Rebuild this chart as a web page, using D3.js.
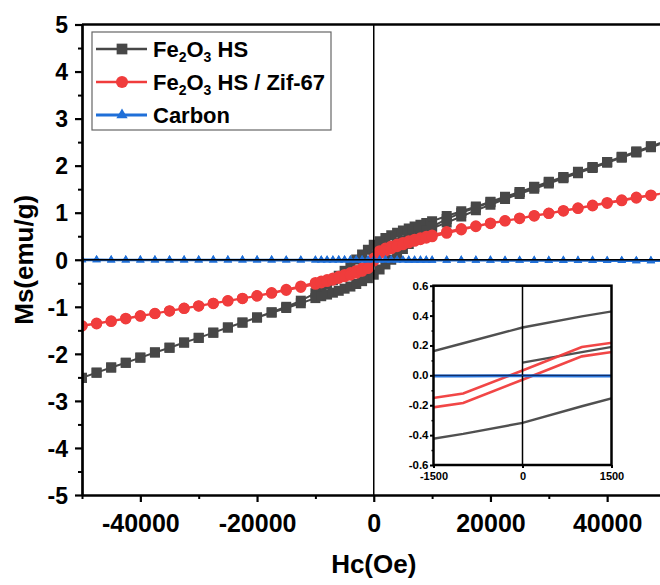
<!DOCTYPE html>
<html><head><meta charset="utf-8">
<script src="https://cdn.jsdelivr.net/npm/d3@7"></script>
<style>
body{margin:0;background:#fff}
svg{display:block}
text{font-family:"Liberation Sans",Arial,sans-serif;font-weight:bold}
</style>
</head><body>
<svg id="c" width="660" height="585"></svg>
<script>
// ---------- data ----------
const fieldVirgin = [0,1000,2000,3000,4000,5000,6000,7000,8000,9000,
  10000,12500,15000,17500,20000,22500,25000,27500,30000,32500,35000,37500,40000,42500,45000,47500,50000];
const fieldDown = [50000,47500,45000,42500,40000,37500,35000,32500,30000,27500,25000,22500,20000,17500,15000,12500,10000,
  9000,8000,7000,6000,5000,4000,3000,2000,1000,0,-1000,-2000,-3000,-4000,-5000,-6000,-7000,-8000,-9000,
  -10000,-12500,-15000,-17500,-20000,-22500,-25000,-27500,-30000,-32500,-35000,-37500,-40000,-42500,-45000,-47500,-50000];
const fieldUp = [-50000,-47500,-45000,-42500,-40000,-37500,-35000,-32500,-30000,-27500,-25000,-22500,-20000,-17500,-15000,-12500,-10000,
  -9000,-8000,-7000,-6000,-5000,-4000,-3000,-2000,-1000,0,1000,2000,3000,4000,5000,6000,7000,8000,9000,
  10000,12500,15000,17500,20000,22500,25000,27500,30000,32500,35000,37500,40000,42500,45000,47500,50000];

const feVirgin = [0.085,0.155,0.225,0.29,0.355,0.415,0.47,0.525,0.575,0.625,
  0.67,0.79,0.92,1.05,1.17,1.29,1.40,1.51,1.62,1.73,1.84,1.95,2.06,2.17,2.28,2.39,2.50];
const feDown = [2.52,2.41,2.30,2.19,2.08,1.97,1.87,1.76,1.66,1.55,1.44,1.34,1.235,1.13,1.03,0.93,0.82,
  0.78,0.745,0.705,0.665,0.62,0.575,0.52,0.46,0.395,0.32,0.215,0.11,0.005,-0.12,-0.235,-0.34,-0.435,-0.53,-0.625,
  -0.71,-0.87,-1.0,-1.115,-1.225,-1.335,-1.44,-1.55,-1.66,-1.76,-1.87,-1.97,-2.08,-2.19,-2.29,-2.40,-2.51];
const feUp = [-2.51,-2.40,-2.29,-2.19,-2.08,-1.97,-1.87,-1.76,-1.66,-1.55,-1.44,-1.335,-1.23,-1.125,-1.025,-0.925,-0.815,
  -0.775,-0.74,-0.70,-0.66,-0.615,-0.57,-0.515,-0.455,-0.392,-0.318,-0.207,-0.10,0.0,0.115,0.23,0.335,0.43,0.525,0.62,
  0.705,0.865,0.995,1.11,1.22,1.33,1.435,1.545,1.655,1.755,1.865,1.965,2.075,2.185,2.295,2.405,2.51];

const zifDown = [1.42,1.375,1.33,1.27,1.215,1.16,1.10,1.045,0.99,0.94,0.885,0.83,0.78,0.72,0.66,0.595,0.525,
  0.495,0.465,0.435,0.40,0.365,0.33,0.29,0.245,0.19,0.033,-0.122,-0.18,-0.23,-0.275,-0.315,-0.355,-0.39,-0.425,-0.455,
  -0.485,-0.56,-0.63,-0.70,-0.765,-0.82,-0.87,-0.925,-0.98,-1.03,-1.085,-1.14,-1.19,-1.245,-1.30,-1.35,-1.40];
const zifUp = [-1.41,-1.36,-1.31,-1.255,-1.20,-1.145,-1.09,-1.035,-0.985,-0.93,-0.875,-0.825,-0.77,-0.71,-0.65,-0.585,-0.52,
  -0.49,-0.46,-0.43,-0.395,-0.36,-0.325,-0.285,-0.243,-0.185,-0.029,0.127,0.185,0.235,0.28,0.32,0.36,0.395,0.43,0.46,
  0.49,0.565,0.635,0.705,0.77,0.825,0.875,0.93,0.985,1.035,1.09,1.145,1.20,1.255,1.31,1.365,1.42];

const carbonDown = [-0.02,-0.02,-0.02,-0.018,-0.018,-0.016,-0.016,-0.015,-0.015,-0.014,-0.013,-0.013,-0.012,-0.012,-0.011,-0.011,-0.01,
  -0.01,-0.01,-0.009,-0.009,-0.008,-0.008,-0.006,-0.005,-0.004,-0.003,-0.004,-0.005,-0.006,-0.006,-0.007,-0.007,-0.008,-0.008,-0.008,
  -0.008,-0.008,-0.008,-0.007,-0.007,-0.007,-0.006,-0.006,-0.006,-0.005,-0.005,-0.005,-0.004,-0.004,-0.004,-0.003,-0.003];
const carbonUp = [-0.003,-0.003,-0.004,-0.004,-0.004,-0.005,-0.005,-0.005,-0.006,-0.006,-0.006,-0.007,-0.007,-0.007,-0.008,-0.008,-0.008,
  -0.008,-0.008,-0.008,-0.007,-0.007,-0.006,-0.006,-0.005,-0.004,-0.003,-0.004,-0.005,-0.006,-0.008,-0.008,-0.009,-0.009,-0.01,-0.01,
  -0.01,-0.011,-0.011,-0.012,-0.012,-0.013,-0.013,-0.014,-0.015,-0.015,-0.016,-0.016,-0.018,-0.018,-0.02,-0.02,-0.02];

const xTicks = [-40000,-20000,0,20000,40000];
const xMinorTicks = [-50000,-30000,-10000,10000,30000,50000];
const yTicks = [-5,-4,-3,-2,-1,0,1,2,3,4,5];
const yMinorTicks = [-4.5,-3.5,-2.5,-1.5,-0.5,0.5,1.5,2.5,3.5,4.5];
const insetXTicks = [-1500,0,1500];
const insetYTicks = [-0.6,-0.4,-0.2,0,0.2,0.4,0.6];
const insetYMinorTicks = [-0.5,-0.3,-0.1,0.1,0.3,0.5];

// legend labels: [text, isSubscript]
const legendLabels = [
  [["Fe",0],["2",1],["O",0],["3",1],[" HS",0]],
  [["Fe",0],["2",1],["O",0],["3",1],[" HS / Zif-67",0]],
  [["Carbon",0]]
];

// ---------- build ----------
const zip = (a,b) => a.map((v,i)=>[v,b[i]]);
const series = [
  {color:"#474747", symbol:d3.symbolSquare, size:100, lw:2, ilw:2.4,
   pts:[...zip(fieldVirgin,feVirgin), ...zip(fieldDown,feDown), ...zip(fieldUp,feUp)]},
  {color:"#f03c3c", symbol:d3.symbolCircle, size:100, lw:2, ilw:2.6,
   pts:[...zip(fieldDown,zifDown), ...zip(fieldUp,zifUp)]},
  {color:"#1f6fd8", symbol:d3.symbolTriangle, size:32, lw:2.6, ilw:3,
   pts:[...zip(fieldDown,carbonDown), ...zip(fieldUp,carbonUp)]}
];

const svg = d3.select("#c");
const FONT = "Liberation Sans, Arial, sans-serif";
const x = d3.scaleLinear().domain([-50000,50000]).range([82,665.5]);
const y = d3.scaleLinear().domain([-5,5]).range([495,24.5]);

const defs = svg.append("defs");
defs.append("clipPath").attr("id","clipMain").append("rect")
  .attr("x",x(-50000)).attr("y",y(5)).attr("width",x(50000)-x(-50000)).attr("height",y(-5)-y(5));

const plot = svg.append("g").attr("clip-path","url(#clipMain)");
series.forEach(s=>{
  plot.append("path").datum(s.pts)
    .attr("d", d3.line().x(d=>x(d[0])).y(d=>y(d[1])))
    .attr("fill","none").attr("stroke",s.color).attr("stroke-width",s.lw).attr("stroke-linejoin","round");
  plot.append("g").selectAll("path").data(s.pts).join("path")
    .attr("transform",d=>`translate(${x(d[0])},${y(d[1])})`)
    .attr("d", d3.symbol(s.symbol, s.size)())
    .attr("fill", s.color);
});
// zero lines
plot.append("line").attr("x1",x(0)).attr("x2",x(0)).attr("y1",y(5)).attr("y2",y(-5))
  .attr("stroke","#000").attr("stroke-width",1.5);
plot.append("line").attr("x1",x(-50000)).attr("x2",x(50000)).attr("y1",y(0)).attr("y2",y(0))
  .attr("stroke","#000").attr("stroke-width",1.5);

// top frame
svg.append("line").attr("x1",x(-50000)).attr("x2",x(50000)).attr("y1",y(5)).attr("y2",y(5))
  .attr("stroke","#000").attr("stroke-width",2.7);

function styleAxis(g, fs){
  g.attr("font-family",FONT).attr("font-weight","bold").attr("font-size",fs);
  g.select(".domain").attr("stroke-width",2.7);
  g.selectAll(".tick line").attr("stroke-width",2.2);
}
// y axis
const gyMinor = svg.append("g").attr("transform",`translate(${x(-50000)},0)`)
  .call(d3.axisLeft(y).tickValues(yMinorTicks).tickSize(4).tickSizeOuter(0).tickFormat(""));
gyMinor.select(".domain").remove();
gyMinor.selectAll(".tick line").attr("stroke-width",2);
const gy = svg.append("g").attr("transform",`translate(${x(-50000)},0)`)
  .call(d3.axisLeft(y).tickValues(yTicks).tickSize(7).tickSizeOuter(0).tickFormat(d=>String(d)));
styleAxis(gy,23);
gy.selectAll(".tick text").attr("x",-14).attr("dy","0.36em");

// x axis
const gxMinor = svg.append("g").attr("transform",`translate(0,${y(-5)})`)
  .call(d3.axisBottom(x).tickValues(xMinorTicks).tickSize(4).tickSizeOuter(0).tickFormat(""));
gxMinor.select(".domain").remove();
gxMinor.selectAll(".tick line").attr("stroke-width",2);
const gx = svg.append("g").attr("transform",`translate(0,${y(-5)})`)
  .call(d3.axisBottom(x).tickValues(xTicks).tickSize(7).tickSizeOuter(0).tickFormat(d=>String(d)));
styleAxis(gx,25);
gx.selectAll(".tick text").attr("y",37).attr("dy",0);

// axis titles
svg.append("text").attr("transform",`translate(33,${y(0)}) rotate(-90)`)
  .attr("text-anchor","middle").attr("font-size",26).text("Ms(emu/g)");
svg.append("text").attr("x",x(0)).attr("y",573)
  .attr("text-anchor","middle").attr("font-size",26).text("Hc(Oe)");

// legend
const lg = svg.append("g");
lg.append("rect").attr("x",92).attr("y",32).attr("width",239).attr("height",98)
  .attr("fill","#fff").attr("stroke","#666").attr("stroke-width",1.2);
const rowY = [49, 82, 115];
series.forEach((s,i)=>{
  const cy = rowY[i];
  lg.append("line").attr("x1",96).attr("x2",147).attr("y1",cy).attr("y2",cy)
    .attr("stroke",s.color).attr("stroke-width",s.lw + 0.6);
  lg.append("path").attr("transform",`translate(122,${cy})`)
    .attr("d", d3.symbol(s.symbol, s.symbol===d3.symbolTriangle ? 55 : s.size*1.15)()).attr("fill",s.color);
  const t = lg.append("text").attr("x",153).attr("y",cy+8).attr("font-size",22);
  legendLabels[i].forEach(([str,sub],k)=>{
    const ts = t.append("tspan").text(str);
    if(sub){ ts.attr("font-size",14).attr("dy",5); }
    else if(k>0 && legendLabels[i][k-1][1]){ ts.attr("dy",-5); }
  });
});

// ---------- inset ----------
const ix = d3.scaleLinear().domain([-1500,1500]).range([433.5,611.5]);
const iy = d3.scaleLinear().domain([-0.6,0.6]).range([465,285.7]);
const ins = svg.append("g");
ins.append("rect").attr("x",ix(-1500)).attr("y",iy(0.6)).attr("width",ix(1500)-ix(-1500)).attr("height",iy(-0.6)-iy(0.6))
  .attr("fill","#fff");
defs.append("clipPath").attr("id","clipInset").append("rect")
  .attr("x",ix(-1500)).attr("y",iy(0.6)).attr("width",ix(1500)-ix(-1500)).attr("height",iy(-0.6)-iy(0.6));
const ip = ins.append("g").attr("clip-path","url(#clipInset)");
series.forEach(s=>{
  ip.append("path").datum(s.pts)
    .attr("d", d3.line().x(d=>ix(d[0])).y(d=>iy(d[1])))
    .attr("fill","none").attr("stroke",s.color).attr("stroke-width",s.ilw).attr("stroke-opacity",0.95);
});
ip.append("line").attr("x1",ix(0)).attr("x2",ix(0)).attr("y1",iy(0.6)).attr("y2",iy(-0.6))
  .attr("stroke","#000").attr("stroke-width",1.5);
ip.append("line").attr("x1",ix(-1500)).attr("x2",ix(1500)).attr("y1",iy(0)).attr("y2",iy(0))
  .attr("stroke","#0d2f6e").attr("stroke-width",1.2);
ins.append("rect").attr("x",ix(-1500)).attr("y",iy(0.6)).attr("width",ix(1500)-ix(-1500)).attr("height",iy(-0.6)-iy(0.6))
  .attr("fill","none").attr("stroke","#000").attr("stroke-width",2.5);

const iyMinor = ins.append("g").attr("transform",`translate(${ix(-1500)},0)`)
  .call(d3.axisLeft(iy).tickValues(insetYMinorTicks).tickSize(2).tickSizeOuter(0).tickFormat(""));
iyMinor.select(".domain").remove();
iyMinor.selectAll(".tick line").attr("stroke-width",1.5);
const giy = ins.append("g").attr("transform",`translate(${ix(-1500)},0)`)
  .call(d3.axisLeft(iy).tickValues(insetYTicks).tickSize(3.5).tickSizeOuter(0).tickFormat(d=>d.toFixed(1)));
giy.attr("font-family",FONT).attr("font-weight","bold").attr("font-size",11.5);
giy.select(".domain").remove();
giy.selectAll(".tick line").attr("stroke-width",2);
giy.selectAll(".tick text").attr("x",-5).attr("dy","0.3em");

const gix = ins.append("g").attr("transform",`translate(0,${iy(-0.6)})`)
  .call(d3.axisBottom(ix).tickValues(insetXTicks).tickSize(3).tickSizeOuter(0).tickFormat(d=>String(d)));
gix.attr("font-family",FONT).attr("font-weight","bold").attr("font-size",11);
gix.select(".domain").remove();
gix.selectAll(".tick line").attr("stroke-width",2);
gix.selectAll(".tick text").attr("y",14.5).attr("dy",0);
</script>
</body></html>
